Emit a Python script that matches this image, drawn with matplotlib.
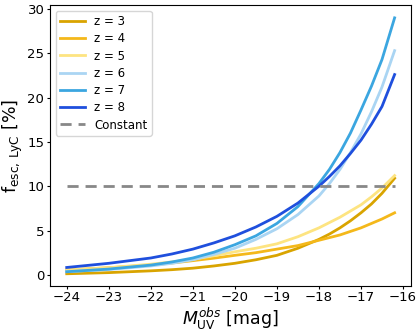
import matplotlib
matplotlib.use("Agg")
import matplotlib.pyplot as plt

M_uv = [-24, -23, -22, -21.5, -21, -20.5, -20, -19.5, -19, -18.5, -18, -17.75, -17.5,
        -17.25, -17, -16.75, -16.5, -16.2]
z3 = [0.12, 0.25, 0.45, 0.58, 0.75, 1.0, 1.3, 1.7, 2.2, 3.0, 4.0, 4.6, 5.3, 6.1, 7.0, 8.0, 9.2, 10.9]
z4 = [0.55, 0.8, 1.1, 1.33, 1.6, 1.88, 2.2, 2.5, 2.9, 3.3, 3.9, 4.2, 4.5, 4.9, 5.3, 5.8, 6.3, 7.0]
z5 = [0.55, 0.8, 1.2, 1.45, 1.75, 2.15, 2.6, 3.0, 3.5, 4.3, 5.3, 5.9, 6.5, 7.2, 7.9, 8.8, 9.8, 11.2]
z6 = [0.35, 0.6, 1.0, 1.3, 1.7, 2.3, 3.0, 4.0, 5.2, 6.8, 8.9, 10.3, 11.9, 13.8, 15.9, 18.4, 21.2, 25.3]
z7 = [0.35, 0.65, 1.1, 1.45, 1.9, 2.55, 3.4, 4.4, 5.8, 7.7, 10.3, 11.9, 13.8, 16.0, 18.6, 21.3, 24.3, 29.0]
z8 = [0.83, 1.3, 1.9, 2.35, 2.9, 3.6, 4.4, 5.4, 6.6, 8.1, 10.0, 11.1, 12.3, 13.7, 15.2, 17.0, 19.0, 22.6]
const_x = [-24, -16.2]
const_y = [10, 10]

series = [("z = 3", z3, "#D9A400"), ("z = 4", z4, "#F4B81A"), ("z = 5", z5, "#FDE481"),
          ("z = 6", z6, "#AAD5F3"), ("z = 7", z7, "#3BA6E0"), ("z = 8", z8, "#1F4FDD")]

fig = plt.figure(figsize=(4.16, 3.34), dpi=100)
ax = fig.add_axes([0.12, 0.144, 0.869, 0.841])
for lab, ys, c in series:
    ax.plot(M_uv, ys, color=c, lw=2, label=lab)
ax.plot(const_x, const_y, color="#888888", lw=2, ls=(0, (4, 2.5)), label="Constant")

ax.set_xlim(-24.4, -15.8)
ax.set_ylim(-1.25, 30.45)
ax.set_xticks(range(-24, -15))
ax.set_yticks(range(0, 31, 5))
ax.tick_params(labelsize=9.5, length=2.5, pad=1.5)
ax.set_xlabel(r"$M_{\rm UV}^{obs}$ [mag]", fontsize=12.5, labelpad=1)
ax.set_ylabel(r"$\mathregular{f_{esc,\,LyC}}$ [%]", fontsize=12.5, labelpad=1.5)
ax.legend(loc="upper left", fontsize=8.5, handlelength=2.1, borderpad=0.35,
          labelspacing=0.36, handletextpad=0.8)
fig.savefig("out.png", dpi=100)
